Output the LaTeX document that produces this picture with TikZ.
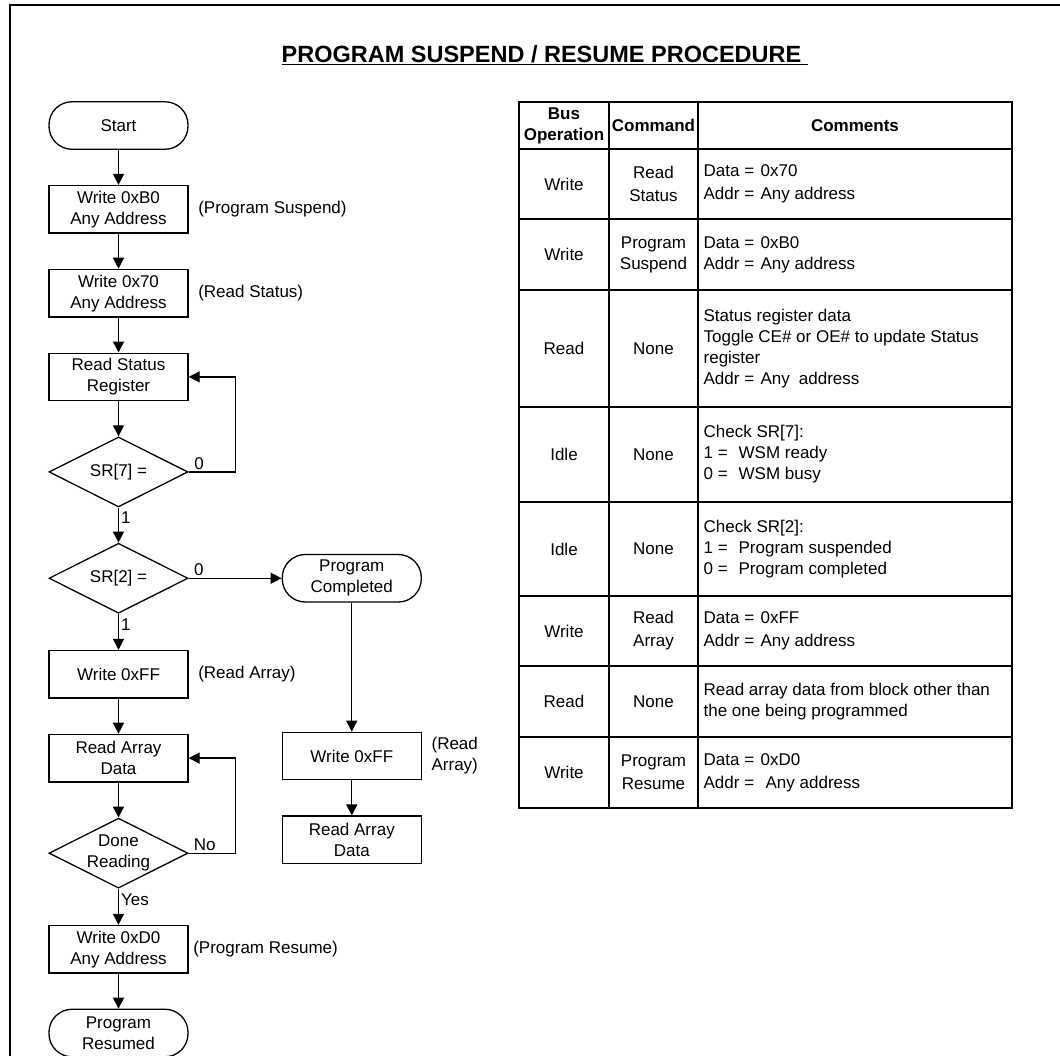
\documentclass[tikz,border=0pt]{standalone}
\usepackage{fontspec}
\setmainfont{Liberation Sans}
\usetikzlibrary{arrows.meta, positioning, shapes.geometric}

\newcommand{\flowfont}{\fontsize{17}{21}\selectfont}
\newcommand{\ttlfont}{\fontsize{23.5}{28}\selectfont\bfseries}
\newcommand{\fld}[2]{\makebox[#1][l]{#2}}

\begin{document}
\begin{tikzpicture}[
            x=1pt, y=-1pt,
            node distance=35pt,
            line width=1.3pt,
            font=\flowfont,
            proc/.style={rectangle, draw, minimum width=139pt, minimum height=47.5pt,
            inner sep=0pt, align=center},
            term/.style={proc, rounded corners=23pt},
            decision/.style={diamond, draw, minimum width=139pt, minimum height=70pt,
            inner sep=0pt},
            note/.style={anchor=west, align=left, inner sep=0pt},
            lbl/.style={inner sep=2pt},
            flow/.style={-{Triangle[length=11pt, width=11pt]}},
            grid/.style={line width=1.6pt},
            cell/.style={align=center, inner sep=0pt},
            hd/.style={cell, font=\flowfont\bfseries}
        ]

\useasboundingbox (0,0) rectangle (1060,1055);

% ----- Rahmen und Titel -----
\draw[line width=2.2pt] (10,1070) |- (1075,5);
\node[anchor=base west, font=\ttlfont, inner sep=0pt] (title) at (281,62)
      {\underline{PROGRAM SUSPEND / RESUME PROCEDURE\ }};

% ----- Knoten (Hauptkette) -----
\node[term] (start) at (118.5,125.5) {Start};
\node[proc, below=of start] (wb0) {Write 0xB0\\Any Address};
\node[proc, below=of wb0] (w70) {Write 0x70\\Any Address};
\node[proc, below=of w70] (rsr) {Read Status\\Register};
\node[decision, below=of rsr, label={center:{SR[7] =}}] (sr7) {};
\node[decision, below=of sr7, label={center:{SR[2] =}}] (sr2) {};
\node[proc, below=36pt of sr2] (wff) {Write 0xFF};
\node[proc, below=of wff] (rad) {Read Array\\Data};
\node[decision, below=of rad, label={[align=center]center:Done\\Reading}] (done) {};
\node[proc, below=36pt of done] (wd0) {Write 0xD0\\Any Address};
\node[term, below=of wd0] (resumed) {Program\\Resumed};

% ----- Knoten (Seitenzweig) -----
\node[term, right=93pt of sr2] (pc) {Program\\Completed};
\node[proc, below=129pt of pc] (wff2) {Write 0xFF};
\node[proc, below=of wff2] (rad2) {Read Array\\Data};

% Hinweise
\node[note, right=9pt of wb0] (nsusp) {(Program Suspend)};
\node[note, right=9pt of w70] (nstat) {(Read Status)};
\node[note, right=9pt of wff] (narr) {(Read Array)};
\node[note, right=4pt of wd0] (nres) {(Program Resume)};
\node[note, right=9pt of wff2] (narr2) {(Read\\Array)};

% ----- Kanten -----
\draw[flow] (start) -- (wb0);
\draw[flow] (wb0) -- (w70);
\draw[flow] (w70) -- (rsr);
\draw[flow] (rsr) -- (sr7);
\draw[flow] (sr7) -- node[lbl, right, pos=0.3] {1} (sr2);
\draw[flow] (sr2) -- node[lbl, right, pos=0.3] {1} (wff);
\draw[flow] (wff) -- (rad);
\draw[flow] (rad) -- (done);
\draw[flow] (done) -- node[lbl, right, pos=0.3] {Yes} (wd0);
\draw[flow] (wd0) -- (resumed);
\draw[flow] (sr2.east) -- node[lbl, above, pos=0.11] {0} (pc.west);
\draw[flow] (pc) -- (wff2);
\draw[flow] (wff2) -- (rad2);

% Rueckschleifen
\draw[flow] (sr7.east) -- node[lbl, above, pos=0.22] {0} ++(47,0) |- (rsr.east);
\draw[flow] (done.east) -- node[lbl, above, pos=0.34] {No} ++(47,0) |- (rad.east);

% ----- Tabelle -----
\draw[grid] (519,102) rectangle (1012,808);
\foreach \yy in {149,219,290,407,502,596,666,737}
    \draw[grid] (519,\yy) -- (1012,\yy);
\foreach \xx in {609,698}
    \draw[grid] (\xx,102) -- (\xx,808);

\node[hd] (hop) at (564,125.5) {Bus\\Operation};
\node[hd] (hcmd) at (653.5,125.5) {Command};
\node[hd] (hcom) at (855,125.5) {Comments};

\foreach \yc/\op/\cmd/\txt [count=\i] in {
    184/Write/{Read\\[2pt]Status}/{\fld{57pt}{Data =}0x70\\[2pt]\fld{57pt}{Addr =}Any address},
    254.5/Write/{Program\\Suspend}/{\fld{57pt}{Data =}0xB0\\\fld{57pt}{Addr =}Any address},
    348.5/Read/None/{Status register data\\Toggle CE\# or OE\# to update Status\\register\\\fld{57pt}{Addr =}Any\hspace{9pt}address},
    454.5/Idle/None/{Check SR[7]:\\\fld{35pt}{1 =}WSM ready\\\fld{35pt}{0 =}WSM busy},
    549/Idle/None/{Check SR[2]:\\\fld{35pt}{1 =}Program suspended\\\fld{35pt}{0 =}Program completed},
    631/Write/{Read\\[2pt]Array}/{\fld{57pt}{Data =}0xFF\\[2pt]\fld{57pt}{Addr =}Any address},
    701.5/Read/None/{Read array data from block other than\\the one being programmed},
    772.5/Write/{Program\\[2pt]Resume}/{\fld{57pt}{Data =}0xD0\\[2pt]\fld{62pt}{Addr =}Any address}}
{
    \node[cell] (op\i) at (564,\yc) {\op};
    \node[cell] (cmd\i) at (653.5,\yc) {\cmd};
    \node[cell, anchor=west, align=left] (com\i) at (703,\yc) {\txt};
}

        \end{tikzpicture}
\end{document}
